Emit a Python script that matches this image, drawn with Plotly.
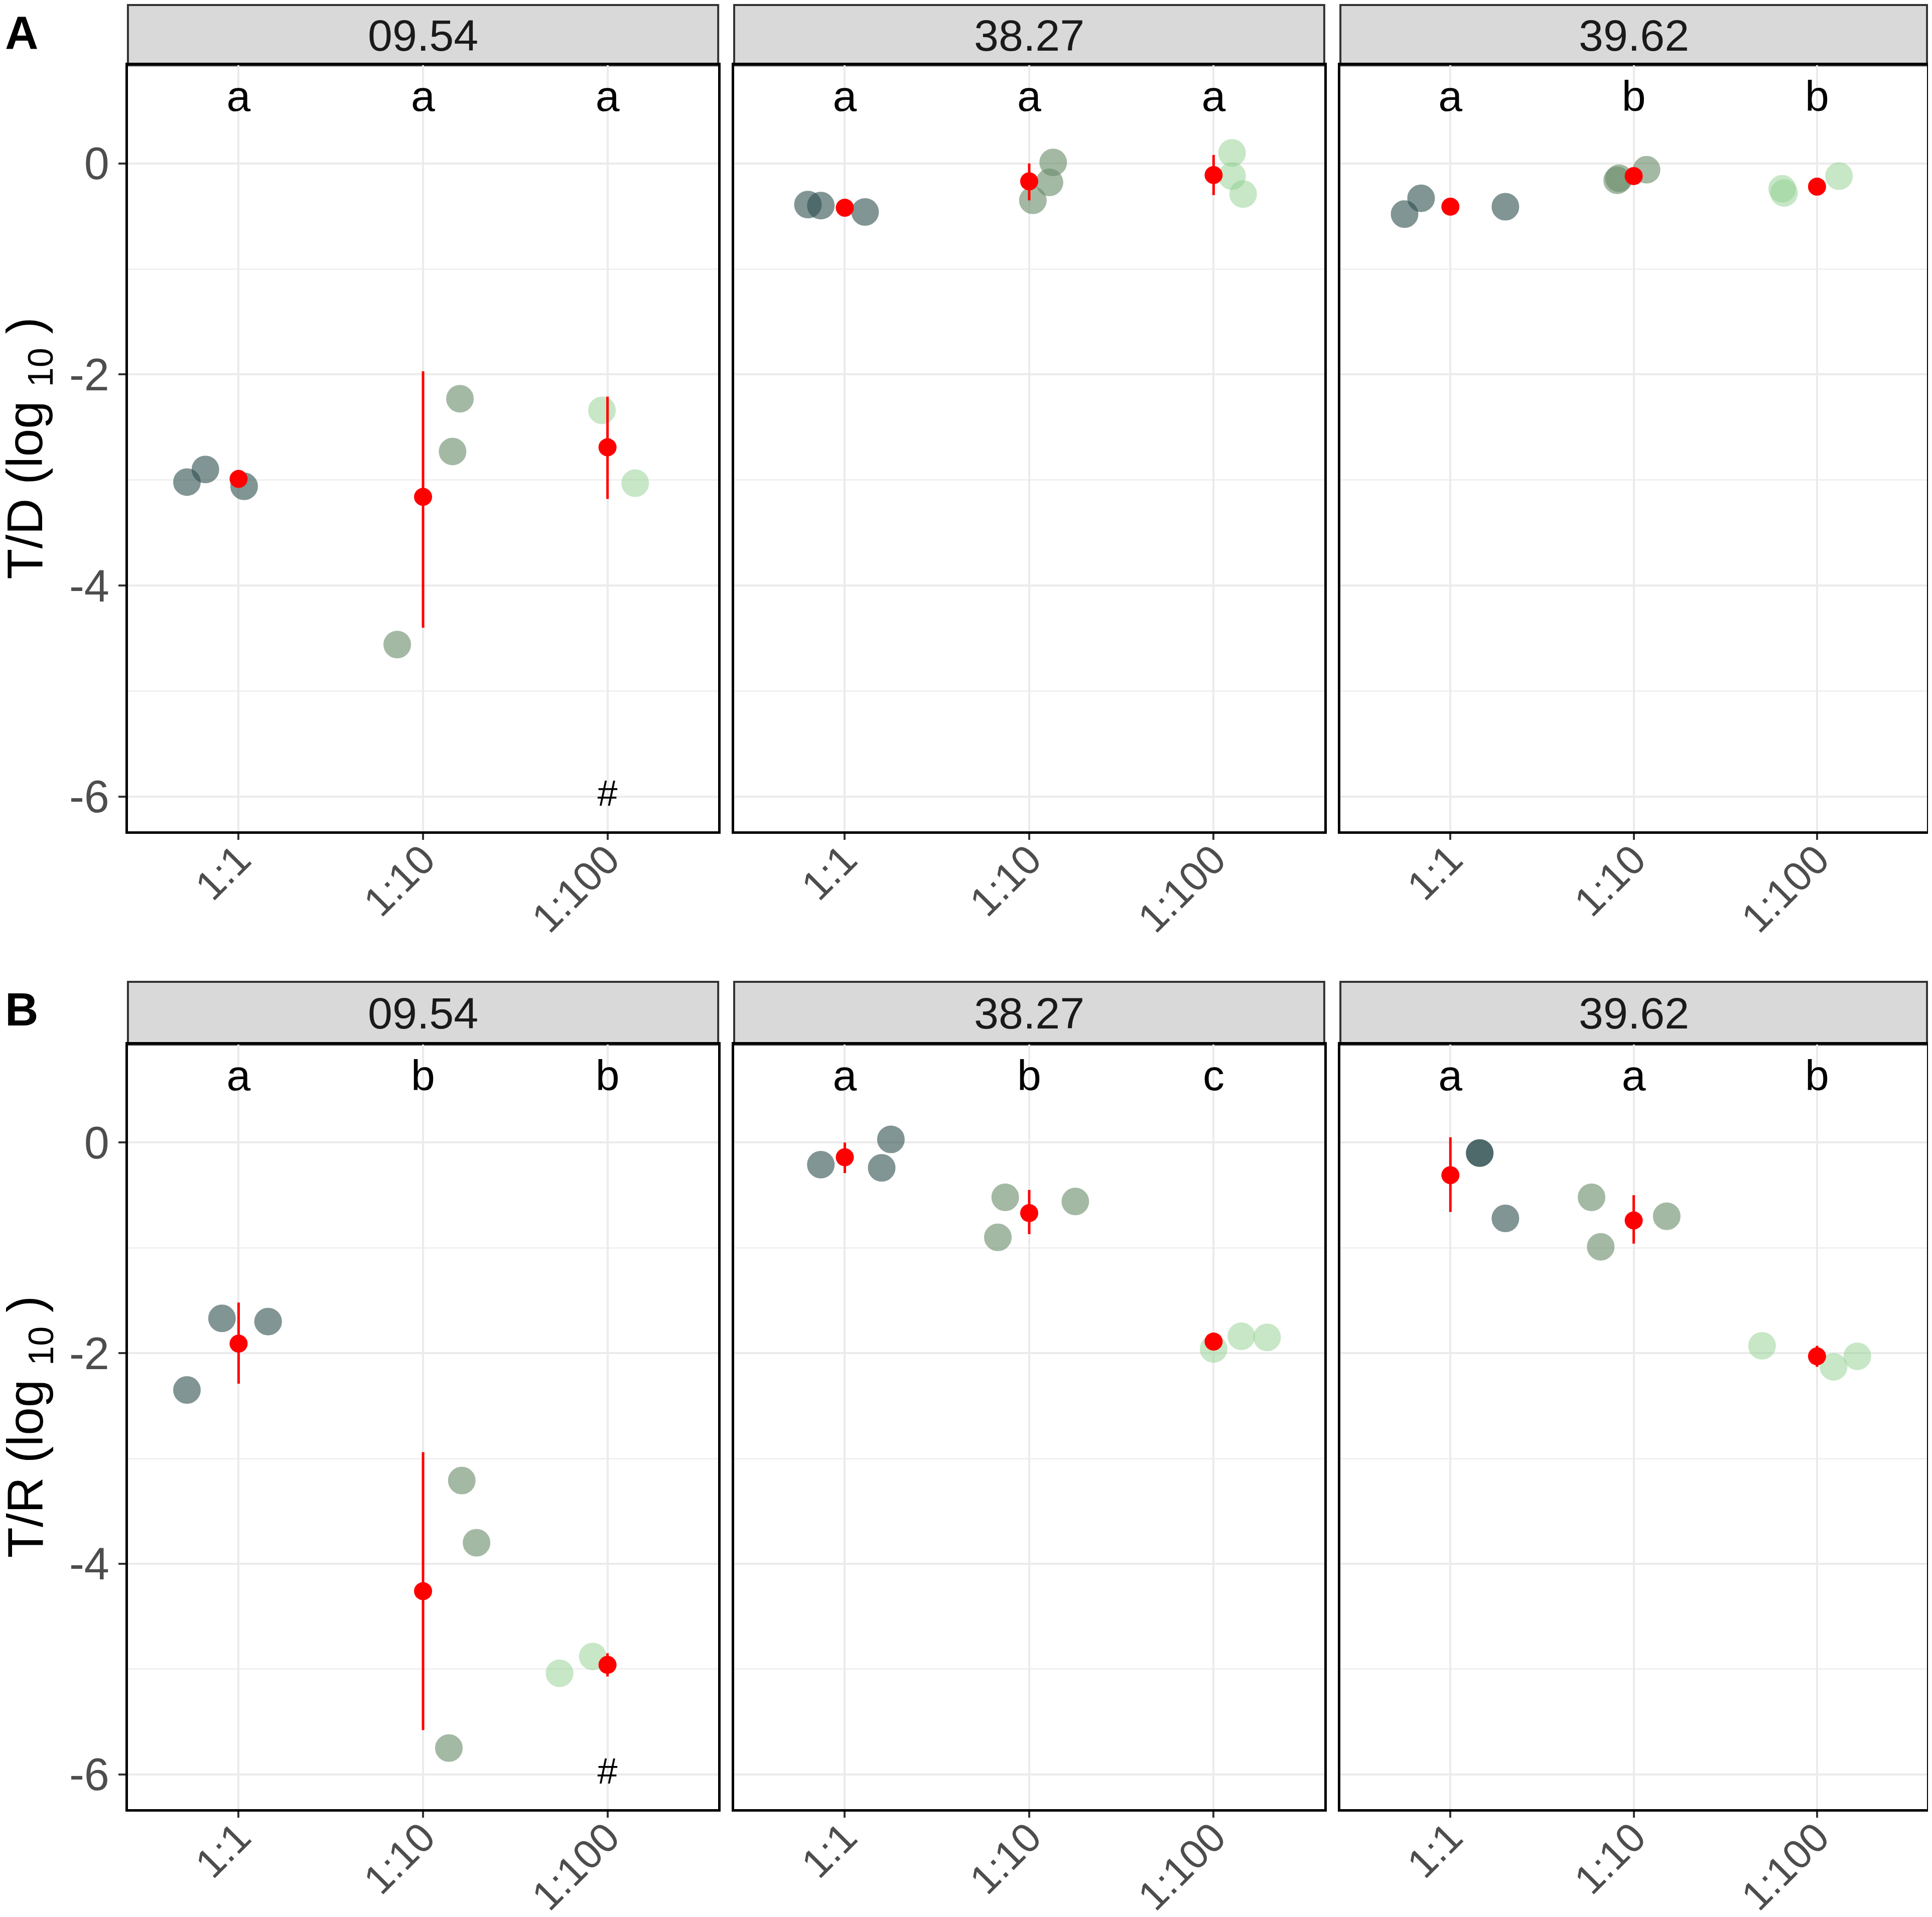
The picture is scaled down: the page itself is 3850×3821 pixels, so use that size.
import plotly.graph_objects as go
from plotly.subplots import make_subplots

W, H = 3834, 3805

panels = ["09.54", "38.27", "39.62"]
dilutions = ["1:1", "1:10", "1:100"]

# T/D (log10): per panel, per dilution -> jitter offset and value of each replicate
td_jit = [
    [[-0.28, -0.18, 0.03], [0.20, 0.16, -0.14], [-0.03, 0.15]],
    [[-0.20, -0.13, 0.11], [0.13, 0.11, 0.02], [0.10, 0.10, 0.16]],
    [[-0.25, -0.16, 0.30], [-0.09, -0.08, 0.07], [-0.19, -0.18, 0.12]],
]
td_y = [
    [[-3.02, -2.90, -3.06], [-2.23, -2.73, -4.56], [-2.34, -3.03]],
    [[-0.39, -0.40, -0.46], [0.01, -0.18, -0.35], [0.10, -0.12, -0.29]],
    [[-0.48, -0.33, -0.41], [-0.16, -0.14, -0.06], [-0.24, -0.28, -0.12]],
]
td_mean = [[-2.99, -3.16, -2.69], [-0.42, -0.17, -0.11], [-0.41, -0.12, -0.22]]
td_lo = [[-3.05, -4.40, -3.18], [-0.45, -0.35, -0.30], [-0.48, -0.16, -0.30]]
td_hi = [[-2.93, -1.97, -2.21], [-0.39, 0.00, 0.08], [-0.34, -0.08, -0.14]]
td_letters = [["a", "a", "a"], ["a", "a", "a"], ["a", "b", "b"]]

# T/R (log10)
tr_jit = [
    [[-0.09, 0.16, -0.28], [0.21, 0.29, 0.14], [-0.26, -0.08]],
    [[-0.13, 0.20, 0.25], [-0.13, -0.17, 0.25], [0.00, 0.15, 0.29]],
    [[0.16, 0.16, 0.30], [-0.23, -0.18, 0.18], [-0.30, 0.09, 0.22]],
]
tr_y = [
    [[-1.67, -1.70, -2.35], [-3.21, -3.80, -5.75], [-5.04, -4.88]],
    [[-0.21, -0.24, 0.03], [-0.52, -0.90, -0.56], [-1.96, -1.84, -1.85]],
    [[-0.10, -0.10, -0.72], [-0.52, -0.99, -0.70], [-1.93, -2.13, -2.03]],
]
tr_mean = [[-1.91, -4.26, -4.96], [-0.14, -0.67, -1.89], [-0.31, -0.74, -2.03]]
tr_lo = [[-2.29, -5.58, -5.07], [-0.29, -0.87, -1.95], [-0.66, -0.96, -2.13]]
tr_hi = [[-1.52, -2.94, -4.85], [0.00, -0.45, -1.83], [0.05, -0.50, -1.93]]
tr_letters = [["a", "b", "b"], ["a", "b", "c"], ["a", "a", "b"]]

# '#' marker: panel 09.54, dilution 1:100, drawn at y = -6
hash_panel, hash_dil, hash_y = 0, 2, -6
letter_y = 0.6

dil_colors = ["rgb(47,79,79)", "rgb(105,139,105)", "rgb(144,208,144)"]
dil_alpha = [0.6, 0.6, 0.5]

FONT = "Liberation Sans, Arial, sans-serif"

fig = make_subplots(rows=2, cols=3)

rows = [
    (td_jit, td_y, td_mean, td_lo, td_hi, td_letters),
    (tr_jit, tr_y, tr_mean, tr_lo, tr_hi, tr_letters),
]

for r, (jit, yv, mean, lo, hi, letters) in enumerate(rows):
    for p in range(3):
        for d in range(3):
            fig.add_trace(go.Scatter(
                x=[d + 1 + j for j in jit[p][d]], y=yv[p][d], mode="markers",
                marker=dict(size=52, color=dil_colors[d], opacity=dil_alpha[d],
                            line=dict(color=dil_colors[d], width=3)),
                showlegend=False, hoverinfo="skip"), row=r + 1, col=p + 1)
        fig.add_trace(go.Scatter(
            x=[1, 2, 3], y=mean[p], mode="markers",
            marker=dict(size=36, color="red"),
            error_y=dict(type="data", symmetric=False,
                         array=[h - m for h, m in zip(hi[p], mean[p])],
                         arrayminus=[m - l for m, l in zip(mean[p], lo[p])],
                         color="red", thickness=5, width=0),
            showlegend=False), row=r + 1, col=p + 1)
        fig.add_trace(go.Scatter(
            x=[1, 2, 3], y=[letter_y] * 3, mode="text", text=letters[p],
            textfont=dict(family=FONT, size=86, color="black"),
            showlegend=False, hoverinfo="skip"), row=r + 1, col=p + 1)
        if p == hash_panel:
            fig.add_trace(go.Scatter(
                x=[hash_dil + 1], y=[hash_y], mode="text", text=["#"],
                textfont=dict(family=FONT, size=72, color="black"),
                showlegend=False, hoverinfo="skip"), row=r + 1, col=p + 1)

# layout geometry (paper fractions)
xdoms = [[0.0644, 0.3712], [0.3795, 0.6862], [0.6946, 0.9995]]
ydoms = [[0.5666, 0.9679], [0.0544, 0.4549]]
strips = [[0.9679, 0.9995], [0.4549, 0.4878]]

for r in range(2):
    for p in range(3):
        fig.update_xaxes(
            domain=xdoms[p], range=[0.4, 3.6], tickvals=[1, 2, 3], ticktext=dilutions,
            tickangle=-45, tickfont=dict(family=FONT, size=82, color="#4D4D4D"),
            ticklabelstandoff=-42,
            showgrid=True, gridcolor="#EBEBEB", gridwidth=4, zeroline=False,
            showline=True, mirror=True, linecolor="black", linewidth=5,
            ticks="outside", ticklen=12, tickwidth=4, tickcolor="#333333",
            automargin=False, row=r + 1, col=p + 1)
        fig.update_yaxes(
            domain=ydoms[r], range=[-6.33, 0.93], tickvals=[-6, -4, -2, 0],
            ticktext=["-6", "-4", "-2", "0"], showticklabels=(p == 0),
            tickfont=dict(family=FONT, size=90, color="#4D4D4D"),
            showgrid=True, gridcolor="#EBEBEB", gridwidth=4, zeroline=False,
            minor=dict(dtick=1, tick0=0, showgrid=True, gridcolor="#F0F0F0", gridwidth=3),
            showline=True, mirror=True, linecolor="black", linewidth=5,
            ticks="outside" if p == 0 else "", ticklen=14, tickwidth=4, tickcolor="#333333",
            automargin=False, row=r + 1, col=p + 1)
        fig.add_shape(type="rect", xref="paper", yref="paper",
                      x0=xdoms[p][0], x1=xdoms[p][1], y0=strips[r][0], y1=strips[r][1],
                      fillcolor="#D9D9D9", line=dict(color="#333333", width=4), layer="below")
        fig.add_annotation(text=panels[p], xref="paper", yref="paper",
                           x=(xdoms[p][0] + xdoms[p][1]) / 2, y=(strips[r][0] + strips[r][1]) / 2,
                           xanchor="center", yanchor="middle",
                           showarrow=False, font=dict(family=FONT, size=88, color="#1A1A1A"))

titles = ["T/D (log <sub>10</sub> )", "T/R (log <sub>10</sub> )"]
for r in range(2):
    fig.add_annotation(text=titles[r], xref="paper", yref="paper", textangle=-90,
                       x=0.0128, y=(ydoms[r][0] + ydoms[r][1]) / 2,
                       xanchor="center", yanchor="middle",
                       showarrow=False, font=dict(family=FONT, size=100, color="black"))
fig.add_annotation(text="<b>A</b>", xref="paper", yref="paper", x=0.0, y=0.9990,
                   xanchor="left", yanchor="top", showarrow=False,
                   font=dict(family=FONT, size=92, color="black"))
fig.add_annotation(text="<b>B</b>", xref="paper", yref="paper", x=0.0, y=0.4873,
                   xanchor="left", yanchor="top", showarrow=False,
                   font=dict(family=FONT, size=92, color="black"))

fig.update_layout(width=W, height=H, margin=dict(l=0, r=0, t=0, b=0, autoexpand=False),
                  plot_bgcolor="white", paper_bgcolor="white", showlegend=False)

fig.write_html("out.html")
